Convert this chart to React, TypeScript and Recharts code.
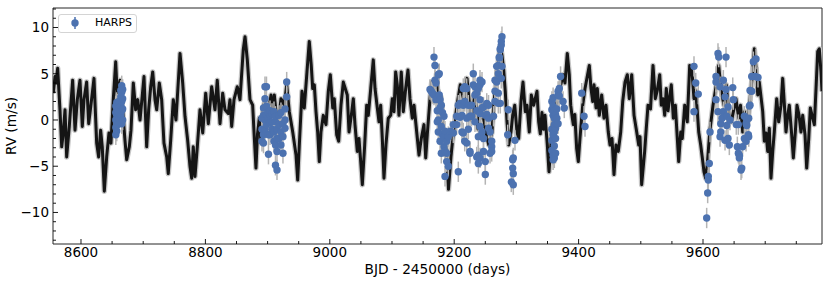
import React from 'react';
import { ComposedChart, Line, Scatter, XAxis, YAxis, ErrorBar, ReferenceArea, Legend, Label } from 'recharts';

const FONT = '"DejaVu Sans", Verdana, sans-serif';
const BLUE = '#4C72B0';

// GP / model curve (BJD - 2450000, RV m/s) at its turning points
const modelDays = [
  8555.5, 8558.2, 8559.8, 8562.5, 8566.2, 8569.0, 8571.5, 8574.3, 8577.0, 8581.2,
  8586.6, 8590.4, 8594.1, 8598.4, 8602.1, 8604.8, 8609.1, 8612.4, 8615.6, 8620.9,
  8625.2, 8628.4, 8631.6, 8634.2, 8637.5, 8641.3, 8645.0, 8648.2, 8651.9, 8655.8,
  8658.4, 8662.7, 8667.0, 8670.7, 8673.5, 8677.7, 8680.4, 8684.1, 8687.9, 8691.2,
  8694.9, 8701.3, 8705.6, 8708.8, 8712.1, 8715.3, 8719.0, 8721.7, 8725.9, 8729.7,
  8733.4, 8737.8, 8740.3, 8744.2, 8748.4, 8752.7, 8759.2, 8763.5, 8767.2, 8771.5,
  8775.2, 8778.0, 8780.5, 8783.3, 8787.0, 8791.3, 8795.7, 8800.5, 8804.7, 8810.1,
  8815.4, 8819.1, 8823.5, 8827.8, 8831.5, 8836.8, 8839.5, 8842.3, 8846.0, 8851.3,
  8855.6, 8860.9, 8863.7, 8867.4, 8871.7, 8876.0, 8878.7, 8881.3, 8883.8, 8886.7,
  8889.4, 8892.1, 8895.8, 8898.2, 8901.4, 8905.5, 8908.2, 8910.8, 8916.2, 8921.5,
  8926.8, 8930.7, 8934.9, 8940.4, 8945.7, 8948.4, 8951.0, 8955.3, 8959.0, 8963.3,
  8967.0, 8970.2, 8972.5, 8975.1, 8977.8, 8980.5, 8983.1, 8985.8, 8989.5, 8993.9,
  8997.6, 9000.8, 9004.7, 9007.2, 9011.1, 9014.3, 9018.0, 9021.7, 9028.1, 9030.9,
  9034.6, 9037.8, 9040.5, 9044.2, 9046.9, 9049.7, 9052.3, 9056.1, 9059.3, 9061.9,
  9065.8, 9069.9, 9072.7, 9076.4, 9079.1, 9081.8, 9084.4, 9087.1, 9090.3, 9094.0,
  9097.9, 9100.5, 9103.2, 9105.9, 9108.5, 9111.2, 9114.9, 9118.2, 9122.0, 9125.7,
  9128.9, 9132.6, 9135.4, 9139.7, 9143.4, 9147.1, 9151.4, 9154.2, 9156.7, 9161.1,
  9163.8, 9167.5, 9171.5, 9175.6, 9178.8, 9182.5, 9187.9, 9190.8, 9194.8, 9198.6,
  9204.5, 9209.8, 9215.8, 9220.6, 9227.0, 9233.4, 9238.3, 9244.7, 9249.5, 9255.5,
  9260.8, 9263.5, 9268.8, 9274.1, 9276.8, 9279.6, 9282.1, 9284.9, 9287.6, 9291.3,
  9294.0, 9297.3, 9301.0, 9303.7, 9307.4, 9310.6, 9314.3, 9317.0, 9320.7, 9324.0,
  9327.8, 9333.1, 9335.8, 9338.4, 9341.1, 9343.6, 9346.0, 9349.7, 9352.4, 9355.6,
  9358.8, 9363.2, 9367.4, 9371.2, 9375.4, 9378.1, 9381.8, 9385.0, 9387.3, 9389.9,
  9391.5, 9393.9, 9396.9, 9399.5, 9402.2, 9406.6, 9410.3, 9417.2, 9419.9, 9422.7,
  9424.8, 9428.0, 9430.1, 9433.3, 9437.1, 9440.8, 9444.0, 9447.7, 9450.5, 9453.7,
  9456.9, 9460.1, 9463.8, 9467.7, 9470.9, 9474.6, 9478.3, 9481.5, 9485.4, 9489.1,
  9493.4, 9496.6, 9498.7, 9501.4, 9506.2, 9508.8, 9511.6, 9515.6, 9519.6, 9523.3,
  9526.5, 9530.4, 9532.9, 9535.7, 9538.4, 9541.0, 9543.7, 9549.0, 9552.3, 9555.5,
  9558.7, 9560.9, 9564.2, 9566.7, 9570.6, 9574.7, 9578.6, 9582.3, 9585.5, 9588.0,
  9590.9, 9593.1, 9596.3, 9598.9, 9601.6, 9604.3, 9606.9, 9610.8, 9616.1, 9621.4,
  9625.2, 9629.4, 9633.7, 9637.4, 9641.3, 9645.5, 9650.9, 9653.0, 9657.4, 9660.3,
  9663.8, 9666.7, 9671.9, 9674.8, 9678.8, 9682.5, 9685.2, 9688.0, 9690.5, 9696.0,
  9698.6, 9701.3, 9704.0, 9706.6, 9709.3, 9712.1, 9714.6, 9718.5, 9721.7, 9725.4,
  9728.1, 9730.7, 9733.4, 9736.2, 9738.7, 9742.6, 9745.2, 9748.4, 9751.1, 9754.4,
  9757.5, 9760.3, 9764.0, 9766.7, 9770.0, 9772.5, 9775.3, 9779.0, 9781.7, 9784.4,
  9787.0, 9789.7, 9791.3,
];

const modelRV = [
  2.9, 4.7, 4.0, 5.6, 1.1, -2.9, -1.4, 1.1, -4.0, -0.7,
  4.3, -1.1, 2.2, 4.3, -0.7, 2.2, 4.1, -0.4, 1.4, 4.5,
  -2.5, -4.0, -1.1, -2.9, -7.7, -4.0, -1.4, -2.5, 2.2, 6.3,
  2.5, 4.3, 1.1, -2.2, -4.3, -2.9, -1.1, 4.0, 1.1, 2.2,
  0.0, 4.7, -2.9, 1.1, 3.6, 5.2, 2.2, 1.1, 4.0, 2.2,
  -2.5, -4.0, -5.8, -2.2, 2.2, 0.0, 7.2, 4.0, 0.4, -2.2,
  -5.0, -6.3, -2.9, -6.1, -2.9, 1.1, -1.4, 2.9, -0.4, 3.6,
  1.1, 4.3, -0.4, 2.9, 1.1, 0.7, 2.2, -0.7, 2.2, 3.6,
  2.2, 7.6, 9.0, 6.5, 2.2, 1.6, -2.0, -5.2, -1.5, 0.2,
  -2.5, 0.9, 2.2, -1.5, 1.0, 2.7, 0.5, 2.7, -0.9, 2.3,
  1.6, 3.8, 0.9, -1.3, -3.8, -6.5, -2.7, 3.1, 1.3, 5.2,
  8.5, 5.9, 3.4, 3.8, 0.9, -1.3, -4.5, -1.3, 0.5, -0.5,
  3.1, 4.9, 1.3, 2.3, -1.6, -2.3, 1.6, 4.1, 2.7, -1.3,
  0.5, 2.3, -0.5, -3.4, -2.0, -4.5, -7.0, -2.7, 1.6, 0.5,
  3.4, 6.5, 3.4, 1.3, -0.2, 1.6, -2.0, -6.3, -2.7, 0.2,
  0.5, 2.3, 0.9, 5.2, 3.8, 0.5, 5.2, 0.9, 3.4, 5.4,
  2.3, 0.2, 1.6, -1.3, -3.8, -2.0, -0.5, -4.1, -1.6, 2.3,
  4.1, 2.0, 5.0, 1.0, 2.5, -2.2, -3.2, -7.5, -4.0, -1.4,
  1.6, 3.8, 2.0, 4.5, 0.0, 3.0, -1.0, 1.6, -1.0, -2.7,
  -1.3, 1.6, 5.2, 8.1, 7.0, 5.4, 3.1, -0.2, -2.7, -1.3,
  0.5, 1.6, -1.3, -2.0, 2.0, 4.1, 0.9, 1.6, -1.3, 2.7,
  1.6, 3.1, -0.2, -1.5, 0.8, -1.0, 0.5, -2.7, -5.6, -2.5,
  0.5, 1.5, 2.3, 3.8, 4.9, 4.0, 7.2, 4.9, 1.6, 0.2,
  -0.5, 0.6, -3.1, -4.5, -2.0, 1.6, 3.4, 5.9, 3.4, 2.0,
  3.8, 1.3, 3.4, 0.5, 2.7, 0.2, 1.6, -1.3, -2.7, -2.0,
  -5.9, -2.7, -3.4, -1.3, 2.0, 4.1, 4.9, 2.3, 4.9, 0.5,
  -1.3, -2.7, -1.8, -7.0, -3.4, -0.9, 1.6, 1.2, 5.9, 2.3,
  3.2, 4.9, 1.6, 2.3, 0.5, 3.4, 1.0, 3.8, 0.2, 1.6,
  -2.0, -4.5, -1.3, -2.0, 1.6, -0.2, 5.9, 5.2, 2.3, 3.2,
  0.9, -1.3, -2.7, -4.1, -5.6, -6.3, -4.8, -1.3, 1.6, 3.8,
  5.9, 3.1, 1.6, 3.8, 0.9, -0.2, 1.6, 2.3, 0.2, 1.6,
  -1.3, 0.9, -0.5, 1.6, 4.5, 7.7, 5.6, 2.7, 4.1, 0.9,
  -2.3, -1.4, -3.4, -0.9, -6.3, -3.4, -1.3, 2.3, -0.2, 1.6,
  4.5, 1.8, -1.3, 0.5, 1.6, -1.6, -4.1, -1.3, 1.6, 0.5,
  -1.3, 0.5, -1.6, -5.2, -2.0, 1.3, 0.5, -0.5, 3.4, 7.4,
  7.7, 5.2, 3.1,
];

// HARPS observations: epoch (BJD - 2450000) and the RVs read at that epoch (m/s)
const harpsEpochs = [
  8656, 8657.5, 8659, 8661, 8664, 8665.5, 8667,
  8891, 8893.4, 8895.8, 8898.2, 8901.4, 8903.9, 8907.1, 8910.3, 8912.7, 8915.1, 8918.3, 8921.5, 8924.7, 8928, 8930.7,
  9161.1, 9163.2, 9165.1, 9167.5, 9169.1, 9170.7, 9172.8, 9174.4, 9176.0, 9177.2, 9179.3, 9181.2, 9183.6, 9185.2,
  9187.9, 9190.5, 9194.0, 9198.6, 9204.0, 9206.6, 9209.3, 9212.5, 9214.6, 9216.9, 9220.1, 9222.7, 9225.4, 9228.1,
  9230.7, 9233.4, 9236.2, 9238.8, 9241.5, 9244.7, 9247.1, 9250.0, 9252.3, 9255.2, 9257.6, 9260.3, 9263.2, 9265.6,
  9268.3, 9270.9, 9272.5, 9274.1, 9275.7, 9276.8, 9286.0, 9286.9, 9291.8, 9294.0, 9295.0, 9297.7,
  9357, 9359, 9361, 9363, 9365, 9367, 9369, 9371, 9375, 9377, 9405, 9408.7, 9410.3,
  9585.5, 9588.3, 9592.4, 9605.9, 9607.5, 9608.5, 9610.1, 9611.3, 9620.9, 9624.1, 9625.3, 9627.4, 9628.5, 9630.6,
  9632.7, 9635.4, 9637.0, 9638.1, 9640.2, 9642.3, 9643.4, 9647.8, 9648.7, 9653.5, 9655.2, 9656.8, 9658.4, 9661.1,
  9662.3, 9663.6, 9666.5, 9669.2, 9670.3, 9672.9, 9673.5, 9674.5, 9675.6, 9678.3, 9680.9, 9684.1, 9685.2, 9688.4,
];

const harpsRVs = [
  [-1.6, -0.8, 0.0, 0.8, 1.5], [-1.2, -0.3, 0.5, 1.2, 1.9], [-0.5, 0.3, 1.0, 1.7], [0.2, 1.3, 2.0],
  [0.5, 1.5, 2.5, 3.2], [-0.4, 1.0, 2.0, 3.0, 3.7], [0.0, 1.2, 2.3, 3.3],
  [-2.3, -1.0, 0.2], [-2.5, -1.6, 1.3, 0.5], [0.0, 2.3, 3.6, -1.0], [-0.5, 0.6, 1.5, 3.6], [-3.7, -1.6, 0.0, 0.8],
  [-1.6, -0.3, 0.5, 1.0], [0.7, -0.2, -1.0], [-1.3, 0.9, -2.3], [-4.9, -2.7, -0.2, 0.4], [-5.4, -3.4, -2.0, -1.0],
  [-2.0, -0.5, 0.5], [-1.3, -2.7, 0.8], [-3.6, -0.4, -1.8], [0.0, -0.9, 1.2], [4.1, 2.5],
  [3.3], [3.1], [2.9], [6.8, 2.7], [5.9, 4.3], [4.0, 2.2], [-0.2, 1.0], [4.9, 0.0, -1.3], [5.0, 2.7],
  [2.2, 1.3, -2.3], [-3.6, 1.6, -0.7], [0.8, -1.6], [0.4, -1.8, -2.9], [-6.1, -3.4, -1.2],
  [-3.6, -4.5, -2.3], [-5.0, -1.8], [-1.2], [-1.4, -0.5], [-0.5, 0.4], [-5.6, 1.6], [1.8, 0.3], [0.5, -1.3],
  [3.4, -1.4, 1.6], [3.6, 2.0, -2.3], [3.4, -2.5, 0.2], [1.6, -1.0], [-3.6, -3.4, 0.4], [0.4, 1.6],
  [5.0, 3.8], [2.7, 3.6, -0.2], [2.9, -4.0, 1.0], [3.4, -1.8, -4.7, -3.8], [4.3, 3.8, 2.2, 0.7, -0.7, -4.1],
  [4.1, 1.3, -1.3], [1.4, -2.0, -3.4], [-4.5, -5.9, 0.5], [1.8, 0.6], [1.6, -0.9, 0.2], [-3.6, -1.3],
  [-2.9, -2.3, -3.4], [0.4], [4.3, 3.1, 2.0],
  [5.8, 4.1], [5.0, 2.9, 1.8, 5.9], [6.8, 6.7], [7.6, 7.7, 1.8], [8.1, 8.5, 4.5], [9.0, 5.8], [-1.6], [1.1],
  [-6.7], [-4.3, -5.2], [-7.0, -4.1, -5.8], [-2.2],
  [2.0, 1.1, -1.0, -2.2, -3.3], [2.4, 1.5, 0.5, -1.6, -3.8, -4.3], [1.0, 0.2, -0.5, -1.3, -2.8, -4.1],
  [0.6, -0.9, -2.0, -3.6], [0.2, -0.4, 1.2], [2.7, 3.1, -0.4], [3.4, 2.6], [4.7], [2.0], [1.3], [2.9], [0.4], [-0.7],
  [5.8, 0.9], [4.0], [2.8], [-10.6], [-7.9], [-6.1, -6.5], [-4.7], [-1.3], [4.7, 4.1, 2.2], [7.2, 0.9], [6.8],
  [3.6, -1.8], [-0.4, -1.3], [0.2],
  [4.3, 0.9], [2.5, -2.2], [6.8, 3.3], [0.4, -0.6], [-2.0, 1.4], [-2.7], [0.0], [3.5], [2.2], [-0.5], [-2.9],
  [-0.5, -3.6], [-3.8, -4.1], [-5.4],
  [-5.2], [-2.9], [-2.0, 0.4], [-0.4, -2.3], [0.0, -0.6], [-1.6], [0.2, -1.8], [1.5], [3.2, 1.6], [4.7, 3.1],
  [6.3], [4.7], [6.6], [4.6],
];

const HARPS_ERR = 1.1;

const X_DOMAIN: [number, number] = [8555, 9791.3];
const Y_DOMAIN: [number, number] = [-13.41, 12.11];
const xTicks = [8600, 8650, 8700, 8750, 8800, 8850, 8900, 8950, 9000, 9050, 9100, 9150, 9200, 9250, 9300, 9350,
  9400, 9450, 9500, 9550, 9600, 9650, 9700, 9750];
const yTicks = [-13, -12, -11, -10, -9, -8, -7, -6, -5, -4, -3, -2, -1, 0, 1, 2, 3, 4, 5, 6, 7, 8, 9, 10, 11, 12];

const modelData = modelDays.map((d, i) => ({ day: d, rv: modelRV[i] }));
const harpsData = harpsEpochs.flatMap((d, i) => harpsRVs[i].map((v) => ({ day: d, rv: v, err: HARPS_ERR })));

const XTick = (props: any) => {
  const { x, y, payload } = props;
  const v = payload.value;
  const major = v % 200 === 0;
  return (
    <g>
      <line x1={x} x2={x} y1={y} y2={y - (major ? 5 : 3)} stroke="#000" strokeWidth={0.9} />
      {major && (
        <text x={x} y={y + 13} textAnchor="middle" fontSize={13.5} fontFamily={FONT} fill="#000">
          {v}
        </text>
      )}
    </g>
  );
};

const YTick = (props: any) => {
  const { x, y, payload } = props;
  const v = payload.value;
  const major = v % 5 === 0;
  const label = v < 0 ? `\u2212${-v}` : `${v}`;
  return (
    <g>
      <line x1={x} x2={x + (major ? 5 : 3)} y1={y} y2={y} stroke="#000" strokeWidth={0.9} />
      {major && (
        <text x={x - 4} y={y} dy="0.36em" textAnchor="end" fontSize={13.5} fontFamily={FONT} fill="#000">
          {label}
        </text>
      )}
    </g>
  );
};

const LegendBox = () => (
  <div
    style={{
      width: 79,
      height: 19,
      boxSizing: 'border-box',
      border: '1px solid #d4d4d4',
      borderRadius: 3,
      background: 'rgba(255,255,255,0.8)',
      position: 'relative',
      fontFamily: FONT,
      fontSize: 11,
      color: '#000',
    }}
  >
    <svg width={30} height={17} style={{ position: 'absolute', left: 0, top: 0 }}>
      <line x1={16} x2={16} y1={2} y2={14} stroke={BLUE} strokeWidth={1.5} />
      <circle cx={16} cy={8} r={3.7} fill={BLUE} />
    </svg>
    <span style={{ position: 'absolute', left: 36, top: 0, lineHeight: '15px', whiteSpace: 'nowrap' }}>HARPS</span>
  </div>
);

const Dot = (p: any) => <circle cx={p.cx} cy={p.cy} r={3.7} fill={BLUE} />;

export default function App() {
  return (
    <div style={{ position: 'absolute', left: 0, top: 0, width: 830, height: 283, background: '#fff' }}>
      <ComposedChart width={830} height={283} margin={{ top: 8, right: 8, bottom: 0, left: 0 }}>
        <XAxis
          type="number"
          dataKey="day"
          domain={X_DOMAIN}
          allowDataOverflow
          ticks={xTicks}
          interval={0}
          tick={<XTick />}
          tickLine={false}
          axisLine={false}
          tickSize={0}
          tickMargin={0}
          height={39}
        >
          <Label
            content={(p: any) => {
              const vb = p.viewBox || { x: 53, y: 244, width: 769, height: 39 };
              return (
                <text x={vb.x + vb.width / 2} y={274} textAnchor="middle" fontSize={13.7} fontFamily={FONT} fill="#000">
                  BJD - 2450000 (days)
                </text>
              );
            }}
          />
        </XAxis>
        <YAxis
          type="number"
          dataKey="rv"
          domain={Y_DOMAIN}
          allowDataOverflow
          ticks={yTicks}
          interval={0}
          tick={<YTick />}
          tickLine={false}
          axisLine={false}
          tickSize={0}
          tickMargin={0}
          width={53}
        >
          <Label
            content={() => (
              <text
                x={16}
                y={126}
                transform="rotate(-90, 16, 126)"
                textAnchor="middle"
                fontSize={13.7}
                fontFamily={FONT}
                fill="#000"
              >
                RV (m/s)
              </text>
            )}
          />
        </YAxis>
        <Line
          data={modelData}
          dataKey="rv"
          type="linear"
          stroke="#c6c6c6"
          strokeWidth={5.5}
          dot={false}
          activeDot={false}
          legendType="none"
          isAnimationActive={false}
          strokeLinejoin="round"
        />
        <Line
          data={modelData}
          dataKey="rv"
          type="linear"
          stroke="#151515"
          strokeWidth={3}
          dot={false}
          activeDot={false}
          legendType="none"
          isAnimationActive={false}
          strokeLinejoin="round"
        />
        <Scatter data={harpsData} dataKey="rv" fill={BLUE} shape={<Dot />} isAnimationActive={false}>
          <ErrorBar dataKey="err" direction="y" width={0} stroke="#b4b4b4" strokeWidth={1.5} isAnimationActive={false} />
        </Scatter>
        <ReferenceArea
          x1={X_DOMAIN[0]}
          x2={X_DOMAIN[1]}
          y1={Y_DOMAIN[0]}
          y2={Y_DOMAIN[1]}
          fill="none"
          fillOpacity={0}
          stroke="#262626"
          strokeWidth={1}
          ifOverflow="visible"
        />
        <Legend
          layout="horizontal"
          verticalAlign="middle"
          align="center"
          content={<LegendBox />}
          wrapperStyle={{ left: 58, top: 14, width: 79, height: 19 }}
        />
      </ComposedChart>
    </div>
  );
}
